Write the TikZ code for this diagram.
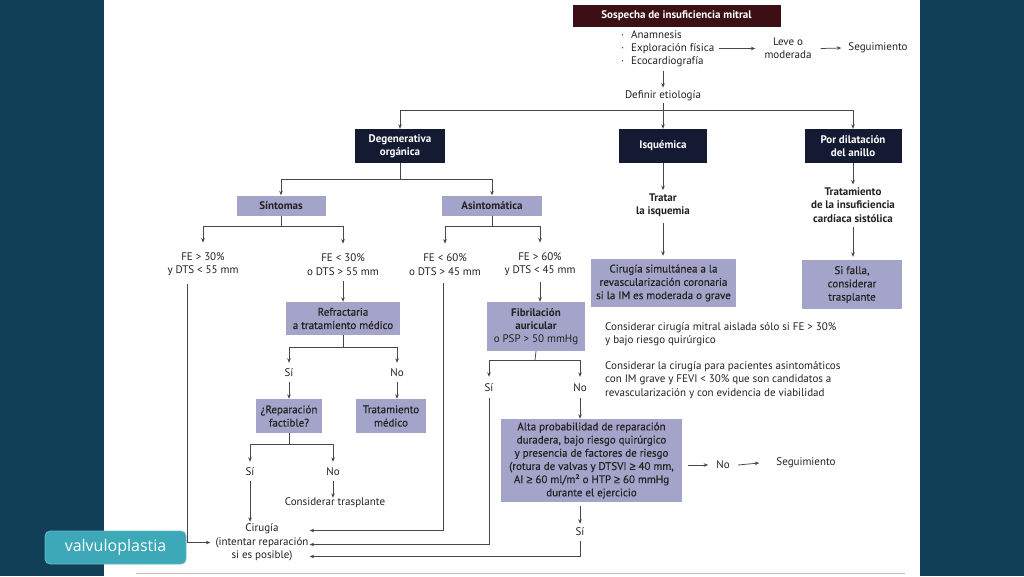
\documentclass[tikz,border=0pt]{standalone}
\usepackage{fontspec}
\setmainfont{PT Sans}
\newfontfamily\med[FakeBold=0.35]{PT Sans}
\newfontfamily\labfont{Open Sans}
\newfontfamily\gefont[FakeBold=0.35]{Liberation Sans}
\newcommand{\gesym}{{\gefont ≥}}
\usetikzlibrary{arrows.meta,calc}
\definecolor{bg}{HTML}{123F58}
\definecolor{lav}{HTML}{A4A4CA}
\definecolor{navy}{HTML}{151A33}
\definecolor{maroon}{HTML}{3B0F14}
\definecolor{tx}{HTML}{222222}
\definecolor{lc}{HTML}{474747}
\definecolor{teal}{HTML}{3DA8B7}
\newcommand{\fs}{\fontsize{11}{13.3}\selectfont}
\tikzset{
  ar/.style={draw=lc, line width=0.75pt, -{Stealth[length=4.5pt,width=3.6pt]}},
  ln/.style={draw=lc, line width=0.75pt},
  lbox/.style={fill=lav, font=\fs\med},
  dbox/.style={fill=navy, text=white, font=\fs\bfseries},
  tbox/.style={fill=maroon, text=white, font=\fs\bfseries},
  note/.style={anchor=west, align=left},
}
\begin{document}
\begin{tikzpicture}[x=1pt,y=-1pt, font=\fs,
  every node/.style={inner sep=0pt, align=center, text=tx}]
\useasboundingbox (0,0) rectangle (1024,576);
\fill[bg] (0,0) rectangle (1024,576);
\fill[white] (104,0) rectangle (920,576);
\draw[color=red!25!gray!45, line width=0.6pt] (136,573) -- (905,573);

% top
\node[tbox, minimum width=208, minimum height=22] (top) at (676.5,16) {Sospecha de insuficiencia mitral};
\node[anchor=west] (b1) at (621,35) {\makebox[10pt][l]{·}Anamnesis};
\node[anchor=west] (b2) at (621,48.5) {\makebox[10pt][l]{·}Exploración física};
\node[anchor=west] (b3) at (621,62) {\makebox[10pt][l]{·}Ecocardiografía};
\node (leve) at (788,48.5) {Leve o\\moderada};
\node (seg1) at (878,48) {Seguimiento};
\draw[ar] ($(b2.east)+(5,0)$) -- ($(leve.west)+(-9,0)$);
\draw[ar] ($(leve.east)+(9,0)$) -- ($(seg1.west)+(-7,0)$);
\node (def) at (663,96) {Definir etiología};
\draw[ar] ($(b3.south -| def.north)+(0,4)$) -- ($(def.north)+(0,-3)$);

% etiologies
\node[dbox, minimum width=90, minimum height=34] (deg) at (400,146) {Degenerativa\\orgánica};
\node[dbox, minimum width=88, minimum height=34] (isq) at (663,146) {Isquémica};
\node[dbox, minimum width=97, minimum height=34] (dil) at (853,146) {Por dilatación\\del anillo};
\coordinate (e1) at (663,110);
\draw[ln] ($(def.south)+(0,2)$) -- (e1);
\draw[ar] (e1) -| (deg);
\draw[ar] (e1) -- (isq);
\draw[ar] (e1) -| (dil);

% degenerativa
\node[lbox, minimum width=89, minimum height=20, font=\fs\bfseries] (sint) at (281,205.5) {Síntomas};
\node[lbox, minimum width=100, minimum height=20, font=\fs\bfseries] (asint) at (492,205.5) {Asintomática};
\coordinate (d1) at (400,179);
\draw[ln] (deg.south) -- (d1);
\draw[ar] (d1) -| (sint);
\draw[ar] (d1) -| (asint);

\node (fe1) at (203,264.5) {FE > 30\%\\y DTS < 55 mm};
\node (fe2) at (343,264.5) {FE < 30\%\\o DTS > 55 mm};
\node (fe3) at (445,264.5) {FE < 60\%\\o DTS > 45 mm};
\node (fe4) at (540,264.5) {FE > 60\%\\y DTS < 45 mm};
\coordinate (s1) at (281,226);
\draw[ln] (sint.south) -- (s1);
\draw[ar, shorten >=10pt] (s1) -| (fe1.north);
\draw[ar, shorten >=10pt] (s1) -| (fe2.north);
\coordinate (a1) at (492,226);
\draw[ln] (asint.south) -- (a1);
\draw[ar, shorten >=10pt] (a1) -| (fe3.north);
\draw[ar, shorten >=10pt] (a1) -| (fe4.north);

% sintomas branch
\node[lbox, minimum width=114, minimum height=33] (ref) at (343,318.5) {Refractaria\\a tratamiento médico};
\draw[ar] ($(fe2.south)+(0,6)$) -- (ref.north);
\node (si1) at (289,373) {Sí};
\node (no1) at (397,373) {No};
\coordinate (r1) at (343,347);
\draw[ln] (ref.south) -- (r1);
\draw[ar, shorten >=6pt] (r1) -| (si1.north);
\draw[ar, shorten >=6pt] (r1) -| (no1.north);
\node[lbox, minimum width=66, minimum height=34] (rep) at (289,416) {¿Reparación\\factible?};
\node[lbox, minimum width=70, minimum height=34] (tmed) at (391,416) {Tratamiento\\médico};
\draw[ar] ($(si1.south)+(0,5)$) -- (rep.north);
\draw[ar] ($(no1.south)+(0,5)$) -- (no1.south |- tmed.north);
\node (si2) at (250,472) {Sí};
\node (no2) at (333,472) {No};
\coordinate (p1) at (289,444);
\draw[ln] (rep.south) -- (p1);
\draw[ar, shorten >=6pt] (p1) -| (si2.north);
\draw[ar, shorten >=6pt] (p1) -| (no2.north);
\node (ctras) at (335,503) {Considerar trasplante};
\draw[ar] ($(no2.south)+(0,5)$) -- (no2.south |- ctras.north);

\node (cir) at (262,542.5) {Cirugía\\(intentar reparación\\si es posible)};
\draw[ar] ($(si2.south)+(0,5)$) -- ($(si2.south |- cir.north)+(0,-2)$);
\draw[ar, shorten >=5pt] ($(fe1.south)+(-16,8)$) |- (cir.west);

% asintomatica branch
\draw[ar] ($(fe3.south)+(-2,8)$) |- ($(cir.east)+(1,-12)$);
\node[lbox, minimum width=98, minimum height=49, font=\fontsize{11}{13}\selectfont] (fib) at (536,326.5) {\textbf{Fibrilación}\\\textbf{auricular}\\o PSP > 50 mmHg};
\draw[ar] ($(fe4.south)+(0,6)$) -- (fe4.south |- fib.north);
\node (si3) at (489,388) {Sí};
\node (no3) at (580,388) {No};
\coordinate (f1) at (535,360);
\draw[ln] (fib.south) -- (f1);
\draw[ar, shorten >=7pt] (f1) -| (si3.north);
\draw[ar, shorten >=7pt] (f1) -| (no3.north);
\draw[ar] ($(si3.south)+(0,6)$) |- ($(cir.east)+(1,2)$);
\node[lbox, minimum width=181, minimum height=83, font=\fontsize{11}{13.2}\selectfont\med] (alta) at (591.5,460.5) {Alta probabilidad de reparación\\duradera, bajo riesgo quirúrgico\\y presencia de factores de riesgo\\(rotura de valvas y DTSVI \gesym{} 40 mm,\\AI \gesym{} 60 ml/m² o HTP \gesym{} 60 mmHg\\durante el ejercicio};
\draw[ar] ($(no3.south)+(0,6)$) -- (no3.south |- alta.north);
\node (no4) at (723,465) {No};
\node (seg2) at (806,463) {Seguimiento};
\draw[ar] ($(alta.east |- no4.west)+(6,0)$) -- ($(no4.west)+(-8,0)$);
\draw[ar] ($(no4.east)+(8,0)$) -- ($(seg2.west)+(-17,0)$);
\node (si4) at (580,532) {Sí};
\draw[ar] ($(alta.south -| si4.north)+(0,4)$) -- ($(si4.north)+(0,-4)$);
\draw[ar] ($(si4.south)+(0,5)$) |- ($(cir.east)+(1,14)$);

% isquemica
\node[font=\fs\bfseries] (tis) at (663,205) {Tratar\\la isquemia};
\draw[ar, shorten >=3pt] (isq.south) -- (tis.north);
\node[lbox, minimum width=145, minimum height=48] (cirs) at (663.5,283) {Cirugía simultánea a la\\revascularización coronaria\\si la IM es moderada o grave};
\draw[ar, shorten >=3pt] ($(tis.south)+(0,6)$) -- (tis.south |- cirs.north);
\node[note] (n1) at (605,334) {Considerar cirugía mitral aislada sólo si FE > 30\%\\y bajo riesgo quirúrgico};
\node[note] (n2) at (605,380) {Considerar la cirugía para pacientes asintomáticos\\con IM grave y FEVI < 30\% que son candidatos a\\revascularización y con evidencia de viabilidad};

% dilatacion
\node[font=\fs\bfseries] (tic) at (853,205) {Tratamiento\\de la insuficiencia\\cardíaca sistólica};
\draw[ar, shorten >=3pt] (dil.south) -- (tic.north);
\node[lbox, minimum width=100, minimum height=49] (fal) at (852,284.5) {Si falla,\\considerar\\trasplante};
\draw[ar, shorten >=3pt] ($(tic.south)+(0,5)$) -- (tic.south |- fal.north);

% label
\node[fill=teal, draw=teal!80!white, line width=0.8pt, rounded corners=5pt, minimum width=141, minimum height=33, text=white, font=\fontsize{16}{18}\selectfont\labfont] (valv) at (115.5,547.5) {valvuloplastia};
\end{tikzpicture}
\end{document}
